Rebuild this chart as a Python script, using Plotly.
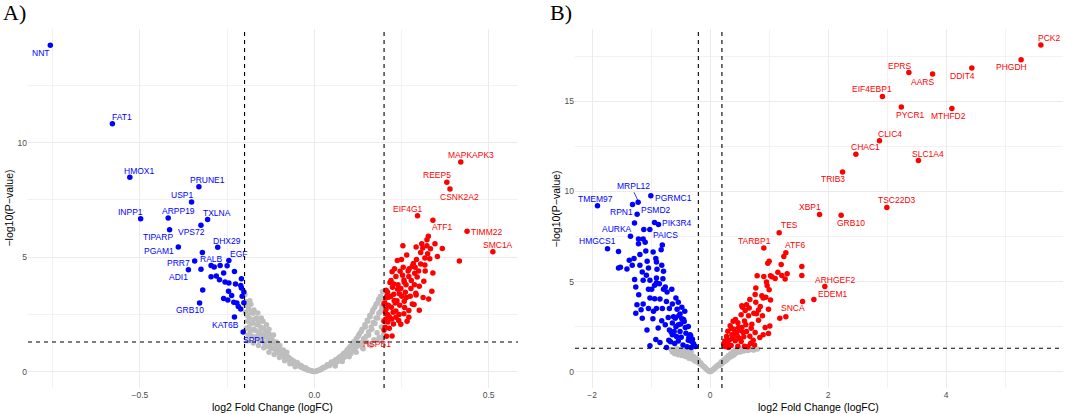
import plotly.graph_objects as go

# ── Panel A data ──────────────────────────────────────────────────────────────
a_down_x = [-0.757, -0.579, -0.529, -0.331, -0.352, -0.498, -0.419, -0.306, -0.325, -0.415,
            -0.277, -0.390, -0.321, -0.245, -0.343, -0.296, -0.361, -0.325, -0.287, -0.270,
            -0.250, -0.260, -0.229, -0.296, -0.281, -0.272, -0.256, -0.245, -0.226, -0.209,
            -0.211, -0.209, -0.246, -0.237, -0.320, -0.202, -0.207, -0.260, -0.248, -0.231,
            -0.222, -0.218, -0.211, -0.202, -0.329, -0.229, -0.204]
a_down_y = [14.25, 10.82, 8.49, 8.07, 7.41, 6.68, 6.71, 6.65, 6.39, 6.20,
            5.43, 5.44, 5.20, 4.86, 4.83, 4.64, 4.45, 4.47, 4.57, 4.64,
            4.63, 4.31, 4.38, 4.15, 4.18, 4.02, 3.92, 3.87, 3.83, 4.06,
            3.76, 3.65, 3.51, 3.33, 3.57, 3.48, 3.29, 3.20, 3.13, 3.03,
            3.00, 2.85, 2.74, 3.01, 3.00, 2.39, 1.73]

a_up_x = [0.420, 0.380, 0.389, 0.296, 0.340, 0.438, 0.512, 0.416, 0.207,
          0.327, 0.323, 0.346, 0.367, 0.292, 0.254, 0.305, 0.317, 0.353, 0.265,
          0.238, 0.284, 0.317, 0.340, 0.223, 0.253, 0.271, 0.288, 0.240, 0.228,
          0.206, 0.248, 0.277, 0.291, 0.337, 0.328, 0.301, 0.271, 0.248, 0.227,
          0.200, 0.223, 0.234, 0.258, 0.200, 0.213, 0.228, 0.259, 0.210, 0.200,
          0.215, 0.237, 0.264, 0.281, 0.292, 0.314, 0.295, 0.272, 0.255, 0.246,
          0.234, 0.220, 0.210, 0.224, 0.205, 0.206, 0.221, 0.234, 0.229, 0.244,
          0.261, 0.278, 0.258, 0.289, 0.325, 0.333, 0.308, 0.331, 0.301, 0.312,
          0.286, 0.271, 0.257, 0.242, 0.211, 0.203,
          0.205, 0.212, 0.219, 0.226, 0.232, 0.239, 0.245, 0.251, 0.257, 0.263,
          0.269, 0.275, 0.281, 0.287, 0.293, 0.299, 0.305, 0.311, 0.318, 0.323,
          0.215, 0.222, 0.243, 0.266, 0.230, 0.250, 0.208, 0.217, 0.202, 0.204]
a_up_y = [9.16, 8.27, 7.98, 6.81, 6.61, 6.13, 5.24, 4.83, 1.55,
          5.91, 5.76, 5.59, 5.38, 5.44, 5.50, 5.20, 4.96, 5.03, 5.09,
          4.85, 4.72, 4.66, 4.31, 4.36, 4.21, 4.16, 4.30, 3.80, 3.83,
          3.56, 3.63, 3.63, 3.43, 3.51, 3.17, 2.68, 2.38, 2.07, 2.08,
          1.82, 1.56, 2.65, 3.08, 2.96, 3.25, 3.38, 2.80, 2.50, 2.20,
          2.40, 3.10, 3.24, 2.96, 3.35, 3.95, 4.13, 4.49, 4.56, 4.39,
          4.16, 3.98, 3.47, 3.69, 3.22, 2.74, 2.82, 2.38, 3.11, 3.40,
          3.47, 3.98, 3.91, 4.56, 5.15, 5.37, 5.59, 4.93, 3.73, 3.24,
          2.93, 2.67, 2.53, 2.24, 2.17, 1.94,
          2.30, 2.90, 3.30, 2.60, 3.00, 3.60, 2.90, 3.30, 4.00, 3.80,
          4.40, 3.30, 4.60, 3.80, 4.90, 4.40, 4.70, 5.40, 4.40, 5.50,
          1.90, 2.30, 2.50, 2.20, 4.50, 4.90, 3.30, 3.90, 3.00, 2.60]

a_ns_x = [-0.199, -0.197, -0.195, -0.193, -0.191, -0.190, -0.188, -0.186, -0.184, -0.182,
          -0.180, -0.178, -0.176, -0.174, -0.171, -0.168, -0.165, -0.162, -0.159, -0.157,
          -0.154, -0.150, -0.147, -0.143, -0.140, -0.138, -0.134, -0.130, -0.126, -0.122,
          -0.118, -0.114, -0.110, -0.105, -0.100, -0.095, -0.090, -0.085, -0.080, -0.074,
          -0.068, -0.062, -0.056, -0.050, -0.044, -0.038, -0.032, -0.026, -0.020, -0.014,
          -0.008, -0.003,
          -0.196, -0.192, -0.188, -0.185, -0.181, -0.177, -0.173, -0.169, -0.166, -0.163,
          -0.160, -0.156, -0.152, -0.149, -0.145, -0.141, -0.137, -0.133, -0.129, -0.125,
          -0.121, -0.117, -0.113, -0.109, -0.104, -0.099, -0.094, -0.089, -0.084, -0.079,
          -0.073, -0.067, -0.061, -0.055, -0.049, -0.043, -0.037, -0.031, -0.025, -0.019,
          -0.013, -0.007, -0.190, -0.175, -0.160, -0.145, -0.130, -0.115, -0.100, -0.085,
          -0.070, -0.055,
          0.003, 0.008, 0.014, 0.020, 0.026, 0.032, 0.038, 0.044, 0.050, 0.056,
          0.062, 0.068, 0.074, 0.080, 0.085, 0.090, 0.095, 0.100, 0.105, 0.110,
          0.114, 0.118, 0.122, 0.126, 0.130, 0.134, 0.138, 0.142, 0.146, 0.150,
          0.153, 0.156, 0.159, 0.162, 0.165, 0.168, 0.171, 0.174, 0.177, 0.180,
          0.182, 0.184, 0.186, 0.188, 0.190, 0.192, 0.194, 0.196, 0.198, 0.199,
          0.007, 0.013, 0.019, 0.025, 0.031, 0.037, 0.043, 0.049, 0.055, 0.061,
          0.067, 0.073, 0.079, 0.084, 0.089, 0.094, 0.099, 0.104, 0.109, 0.113,
          0.117, 0.121, 0.125, 0.129, 0.133, 0.137, 0.141, 0.145, 0.149, 0.152,
          0.156, 0.160, 0.163, 0.166, 0.169, 0.173, 0.177, 0.181, 0.185, 0.189,
          0.193, 0.197, 0.060, 0.080, 0.100, 0.120, 0.140, 0.160, 0.180, 0.195]
a_ns_y = [3.36, 2.60, 1.90, 3.05, 2.20, 1.60, 2.75, 2.35, 1.75, 2.95,
          2.10, 1.55, 2.55, 1.85, 2.30, 1.50, 2.05, 2.56, 1.70, 1.35,
          1.95, 1.60, 2.20, 1.25, 1.75, 1.10, 1.50, 1.85, 1.20, 1.45,
          1.00, 1.25, 0.85, 1.10, 0.80, 0.95, 0.70, 0.60, 0.75, 0.52,
          0.45, 0.36, 0.42, 0.28, 0.30, 0.20, 0.18, 0.12, 0.08, 0.05,
          0.03, 0.01,
          2.90, 2.45, 1.95, 3.10, 2.60, 2.15, 2.70, 1.80, 2.35, 1.55,
          2.15, 1.75, 2.35, 1.45, 1.90, 1.55, 2.05, 1.35, 1.65, 1.05,
          1.35, 1.60, 1.05, 1.30, 0.95, 1.15, 0.80, 0.95, 0.68, 0.85,
          0.62, 0.55, 0.48, 0.36, 0.40, 0.25, 0.26, 0.15, 0.17, 0.10,
          0.07, 0.04, 1.35, 1.25, 1.15, 1.05, 0.85, 0.75, 0.62, 0.48,
          0.35, 0.22,
          0.01, 0.04, 0.07, 0.12, 0.16, 0.22, 0.28, 0.33, 0.39, 0.45,
          0.40, 0.58, 0.50, 0.72, 0.62, 0.85, 0.74, 1.05, 0.80, 1.20,
          0.95, 1.35, 1.10, 1.55, 1.25, 1.75, 1.05, 1.45, 1.95, 1.30,
          2.20, 1.60, 2.45, 1.15, 1.85, 2.70, 1.40, 2.10, 2.95, 1.70,
          2.35, 3.15, 1.50, 2.60, 3.30, 1.95, 2.85, 3.50, 2.25, 1.62,
          0.03, 0.08, 0.10, 0.18, 0.20, 0.30, 0.26, 0.42, 0.35, 0.52,
          0.45, 0.65, 0.55, 0.80, 0.68, 0.95, 0.82, 1.12, 0.92, 1.30,
          1.05, 1.45, 1.15, 1.65, 1.25, 1.85, 1.40, 2.05, 1.55, 2.25,
          1.75, 2.40, 1.95, 2.60, 2.15, 2.80, 2.35, 3.00, 2.55, 3.25,
          2.70, 3.05, 0.25, 0.45, 0.65, 0.85, 1.00, 1.20, 1.35, 1.45]

a_labels = ["NNT", "FAT1", "HMOX1", "PRUNE1", "USP1", "INPP1", "ARPP19", "TXLNA", "VPS72",
            "TIPARP", "DHX29", "PGAM1", "EGF", "RALB", "PRR7", "ADI1", "GRB10", "KAT6B", "SPP1",
            "MAPKAPK3", "REEP5", "CSNK2A2", "EIF4G1", "ATF1", "TIMM22", "SMC1A", "HSPB1"]
a_label_x = [-0.784, -0.552, -0.500, -0.305, -0.380, -0.526, -0.390, -0.278, -0.352,
             -0.449, -0.249, -0.445, -0.216, -0.294, -0.389, -0.389, -0.357, -0.255, -0.174,
             0.448, 0.353, 0.417, 0.268, 0.367, 0.495, 0.526, 0.181]
a_label_y = [13.92, 11.10, 8.78, 8.35, 7.73, 6.97, 7.00, 6.94, 6.08,
             5.90, 5.72, 5.28, 5.15, 4.93, 4.76, 4.12, 2.69, 2.05, 1.40,
             9.48, 8.57, 7.64, 7.12, 6.30, 6.10, 5.53, 1.22]
a_label_up = [False] * 19 + [True] * 8

# ── Panel B data ──────────────────────────────────────────────────────────────
b_down_x = [-1.909, -1.220, -1.315, -1.237, -1.005, -0.875, -0.942, -1.350, -0.810, -1.739,
            -1.282, -1.124, -1.022, -1.553, -1.214, -1.135, -1.101, -1.214, -1.090, -0.966,
            -1.190, -1.290, -1.370, -1.553, -1.520, -1.410, -1.320, -1.190, -1.045, -0.920,
            -0.910, -1.067, -0.830, -0.900, -0.790, -0.910, -0.910, -0.860, -1.280, -1.260,
            -1.135, -1.045, -0.990, -0.790, -0.650, -0.730, -1.020, -0.940, -0.850, -0.740,
            -0.580, -0.640, -0.540, -0.480, -1.240, -1.170, -1.260, -1.045, -0.910, -0.810,
            -0.690, -0.560, -1.150, -0.970, -0.820, -0.710, -0.590, -0.480, -0.510, -0.430,
            -0.640, -0.540, -0.440, -0.370, -1.070, -0.690, -0.610, -0.510, -0.410, -0.340,
            -0.920, -0.850, -1.020, -0.740, -0.670, -0.600, -0.540, -0.460, -0.390, -0.320,
            -0.310, -0.370, -0.570, -0.490, -0.640, -0.760, -0.880, -0.960, -1.135, -1.210,
            -1.020, -1.080, -1.150, -0.940, -0.800, -0.820, -0.760, -0.250, -0.280, -0.300,
            -0.330, -0.360, -0.420, -0.450, -0.500, -0.530, -0.580, -0.620, -0.660, -0.700]
b_down_y = [9.20, 9.39, 9.27, 8.73, 9.76, 8.16, 8.27, 7.51, 7.02, 6.82,
            8.25, 7.88, 7.88, 6.67, 7.36, 7.36, 7.18, 7.10, 6.70, 6.64,
            6.50, 6.28, 6.18, 5.75, 5.80, 5.70, 5.90, 5.90, 5.75, 6.28,
            6.09, 6.12, 6.76, 5.68, 5.57, 5.20, 4.94, 4.88, 5.12, 4.70,
            5.07, 4.57, 4.57, 4.57, 4.57, 4.42, 4.09, 4.05, 4.03, 3.90,
            4.09, 3.75, 3.86, 3.57, 3.72, 3.44, 3.25, 3.50, 3.50, 3.50,
            3.50, 3.46, 2.97, 2.94, 2.83, 3.01, 2.97, 2.94, 3.20, 3.35,
            2.70, 2.60, 2.79, 2.51, 2.32, 2.32, 2.23, 2.23, 2.14, 2.05,
            1.79, 1.62, 1.44, 1.35, 1.66, 1.57, 1.70, 1.48, 1.38, 1.35,
            1.66, 1.75, 1.96, 1.91, 2.05, 2.60, 2.42, 3.35, 3.75, 4.27,
            5.07, 5.35, 5.53, 4.79, 5.16, 5.90, 4.70, 1.40, 1.55, 1.80,
            2.00, 1.90, 2.45, 2.90, 2.65, 3.10, 2.50, 3.05, 2.20, 1.75]

b_up_x = [5.605, 5.270, 4.435, 3.368, 3.770, 2.920, 3.240, 4.097, 2.870, 2.470,
          3.530, 2.244, 2.995, 1.854, 2.220, 1.170, 0.910, 1.283, 1.944, 1.758,
          1.566, 1.249, 1.000, 0.977, 1.204, 1.554, 1.554, 1.148, 1.215, 1.305,
          1.102, 1.271, 0.797, 0.910, 1.023, 0.955, 0.966, 0.774, 1.000, 0.763,
          0.876, 0.899, 0.673, 1.023, 0.774, 0.617, 0.549, 0.662, 0.989, 0.820,
          0.741, 0.887, 0.651, 0.526, 0.820, 1.181, 1.283, 0.583, 0.470, 0.707,
          1.012, 0.932, 0.402, 0.504, 0.617, 0.763, 0.989, 0.368, 0.458, 0.571,
          0.673, 0.323, 0.425, 0.526, 0.684, 0.752, 0.266, 0.356, 0.470, 0.583,
          0.289, 0.379, 0.447, 0.538, 0.605, 0.310, 0.639, 0.729, 0.842, 0.899,
          0.492, 0.413, 0.560, 0.481, 0.696, 0.786, 0.594, 0.850, 0.944, 1.046,
          0.537, 0.250, 0.230, 0.280, 0.300, 0.340, 0.390, 0.430, 0.250, 0.360]
b_up_y = [18.12, 17.30, 16.84, 16.59, 16.50, 15.26, 14.68, 14.59, 12.80, 12.06,
          11.71, 11.08, 9.11, 8.72, 8.68, 7.71, 6.86, 6.60, 4.72, 4.01,
          3.90, 6.39, 6.13, 6.02, 5.95, 5.84, 5.34, 5.52, 5.34, 5.43,
          5.17, 5.14, 5.32, 5.28, 5.32, 4.97, 4.78, 4.65, 4.54, 4.28,
          4.22, 4.09, 4.01, 3.98, 3.85, 3.72, 3.57, 3.53, 3.46, 3.42,
          3.24, 3.10, 3.10, 3.16, 2.86, 2.97, 3.05, 2.82, 2.71, 2.64,
          2.53, 2.45, 2.36, 2.30, 2.23, 2.17, 2.12, 2.05, 1.99, 1.94,
          1.97, 1.75, 1.72, 1.68, 1.57, 1.49, 1.49, 1.46, 1.42, 1.42,
          1.60, 1.86, 2.17, 2.45, 2.60, 1.35, 1.38, 1.75, 1.90, 2.05,
          1.86, 2.12, 2.17, 2.45, 2.41, 3.21, 3.40, 3.62, 4.13, 5.26,
          3.66, 1.40, 1.55, 1.95, 2.25, 2.55, 2.80, 2.90, 1.70, 2.40]

b_ns_x = [-0.660, -0.640, -0.620, -0.600, -0.580, -0.560, -0.540, -0.520, -0.500, -0.480,
          -0.460, -0.440, -0.420, -0.400, -0.380, -0.360, -0.340, -0.320, -0.300, -0.280,
          -0.260, -0.240, -0.220, -0.200, -0.180, -0.160, -0.140, -0.120, -0.100, -0.080,
          -0.060, -0.040, -0.020, -0.005,
          -0.630, -0.590, -0.550, -0.510, -0.470, -0.430, -0.390, -0.350, -0.310, -0.270,
          -0.230, -0.190, -0.150, -0.110, -0.070, -0.030,
          0.010, 0.030, 0.050, 0.070, 0.090, 0.110, 0.130, 0.150, 0.170, 0.190,
          0.210, 0.230, 0.250, 0.270, 0.290, 0.310, 0.330, 0.350, 0.370, 0.390,
          0.410, 0.430, 0.450, 0.480, 0.510, 0.540, 0.570, 0.600, 0.640, 0.680,
          0.720, 0.760, 0.800,
          0.030, 0.070, 0.110, 0.150, 0.190, 0.230, 0.270, 0.310, 0.350, 0.390,
          0.430, 0.470, 0.520, 0.580, 0.660, 0.740]
b_ns_y = [1.25, 1.10, 1.20, 1.00, 1.15, 1.28, 0.95, 1.10, 1.22, 0.90,
          1.05, 1.20, 0.85, 1.00, 1.15, 0.75, 0.95, 1.10, 0.70, 0.85,
          0.60, 0.75, 0.55, 0.65, 0.45, 0.50, 0.38, 0.32, 0.26, 0.20,
          0.14, 0.09, 0.04, 0.01,
          1.18, 1.05, 1.15, 1.00, 1.12, 0.95, 0.88, 0.82, 0.78, 0.68,
          0.58, 0.50, 0.42, 0.30, 0.18, 0.06,
          0.02, 0.06, 0.11, 0.17, 0.22, 0.28, 0.34, 0.42, 0.38, 0.55,
          0.48, 0.65, 0.58, 0.78, 0.70, 0.90, 0.80, 1.00, 0.88, 1.12,
          0.95, 1.20, 1.05, 1.25, 1.10, 1.22, 1.15, 1.28, 1.18, 1.25,
          1.22, 1.27, 1.26,
          0.07, 0.20, 0.32, 0.35, 0.45, 0.55, 0.62, 0.75, 0.85, 0.95,
          1.05, 1.15, 1.20, 1.25, 1.22, 1.20]

b_labels = ["MRPL12", "TMEM97", "PGRMC1", "RPN1", "PSMD2", "PIK3R4", "AURKA", "PAICS", "HMGCS1",
            "PCK2", "PHGDH", "DDIT4", "EPRS", "AARS", "EIF4EBP1", "PYCR1", "MTHFD2", "CLIC4",
            "CHAC1", "SLC1A4", "TRIB3", "TSC22D3", "XBP1", "GRB10", "TES", "TARBP1", "ATF6",
            "ARHGEF2", "EDEM1", "SNCA"]
b_label_x = [-1.305, -1.937, -0.627, -1.502, -0.920, -0.559, -1.586, -0.751, -1.915,
             5.740, 5.108, 4.278, 3.210, 3.600, 2.746, 3.397, 4.034, 3.040,
             2.634, 3.690, 2.080, 3.159, 1.690, 2.385, 1.346, 0.746, 1.441,
             2.114, 2.074, 1.397]
b_label_y = [10.31, 9.57, 9.64, 8.83, 8.96, 8.27, 7.90, 7.56, 7.23,
             18.49, 16.87, 16.41, 16.97, 16.09, 15.65, 14.25, 14.16, 13.19,
             12.47, 12.08, 10.67, 9.50, 9.11, 8.27, 8.12, 7.23, 7.01,
             5.11, 4.31, 3.53]
b_label_up = [False] * 9 + [True] * 21

# ── Plot ──────────────────────────────────────────────────────────────────────
BLUE, RED, GREY = "#0000FF", "#FF0000", "#BEBEBE"
MS = 5.5

fig = go.Figure()

for xs, ys, col, xa, ya in [
    (a_ns_x, a_ns_y, GREY, "x", "y"),
    (a_down_x, a_down_y, BLUE, "x", "y"),
    (a_up_x, a_up_y, RED, "x", "y"),
    (b_ns_x, b_ns_y, GREY, "x2", "y2"),
    (b_down_x, b_down_y, BLUE, "x2", "y2"),
    (b_up_x, b_up_y, RED, "x2", "y2"),
]:
    fig.add_trace(go.Scatter(
        x=xs, y=ys, xaxis=xa, yaxis=ya, mode="markers",
        marker=dict(color=col, size=MS, line=dict(width=0)),
        showlegend=False, hoverinfo="skip",
    ))

annotations = []
for labs, lx, ly, up, xa, ya in [
    (a_labels, a_label_x, a_label_y, a_label_up, "x", "y"),
    (b_labels, b_label_x, b_label_y, b_label_up, "x2", "y2"),
]:
    for t, x, y, u in zip(labs, lx, ly, up):
        annotations.append(dict(
            x=x, y=y, xref=xa, yref=ya, text=t, showarrow=False,
            xanchor="center", yanchor="middle",
            font=dict(size=8.5, color=RED if u else BLUE, family="Liberation Sans, Arial"),
        ))

# MRPL12 leader segment
fig.add_shape(type="line", xref="x2", yref="y2", x0=-1.29, y0=9.95, x1=-1.225, y1=9.5,
              line=dict(color=BLUE, width=0.8))

# threshold lines
for xa, ya in [("x", "y"), ("x2", "y2")]:
    for v in (-0.2, 0.2):
        fig.add_shape(type="line", xref=xa, yref=ya + " domain", x0=v, x1=v, y0=0, y1=1,
                      line=dict(color="black", width=1.1, dash="4px,4px"))
    fig.add_shape(type="line", xref=xa + " domain", yref=ya, x0=0, x1=1, y0=1.30, y1=1.30,
                  line=dict(color="black", width=1.1, dash="4px,4px"))

title_font = dict(size=10.5, color="black", family="Liberation Sans, Arial")
serif = dict(size=22, color="black", family="Liberation Serif, Times New Roman")
common = dict(xref="paper", yref="paper", showarrow=False, xanchor="center", yanchor="middle")
annotations += [
    dict(text="A)", x=-0.0126, y=1.045, font=serif, **common),
    dict(text="B)", x=0.515, y=1.045, font=serif, **common),
    dict(text="log2 Fold Change (logFC)", x=0.2367, y=0, yshift=-19, font=title_font, **common),
    dict(text="log2 Fold Change (logFC)", x=0.7642, y=0, yshift=-19, font=title_font, **common),
    dict(text="\u2212log10(P\u2212value)", x=-0.0193, y=0.5, textangle=-90, font=title_font, **common),
    dict(text="\u2212log10(P\u2212value)", x=0.5101, y=0.5, textangle=-90, font=title_font, **common),
]

grid = dict(showgrid=True, gridcolor="#EBEBEB", gridwidth=1, zeroline=False,
            showline=False, ticks="", tickfont=dict(size=8.5, color="#4D4D4D"))

fig.update_layout(
    width=1065, height=414,
    margin=dict(l=28, r=2, t=29, b=26),
    plot_bgcolor="white", paper_bgcolor="white",
    font=dict(family="Liberation Sans, Arial"),
    annotations=annotations,
    xaxis=dict(domain=[0, 0.4734], range=[-0.821, 0.584], tickvals=[-0.5, 0, 0.5],
               ticktext=["\u22120.5", "0.0", "0.5"],
               minor=dict(tickvals=[-0.75, -0.25, 0.25], showgrid=True,
                          gridcolor="#F2F2F2", gridwidth=0.6),
               **grid),
    yaxis=dict(domain=[0, 1], range=[-0.71, 14.96], tickvals=[0, 5, 10], anchor="x",
               minor=dict(tickvals=[2.5, 7.5, 12.5], showgrid=True,
                          gridcolor="#F2F2F2", gridwidth=0.6),
               **grid),
    xaxis2=dict(domain=[0.5285, 1.0], range=[-2.29, 5.98], tickvals=[-2, 0, 2, 4],
                ticktext=["\u22122", "0", "2", "4"], anchor="y2",
                minor=dict(tickvals=[-1, 1, 3, 5], showgrid=True,
                           gridcolor="#F2F2F2", gridwidth=0.6),
                **grid),
    yaxis2=dict(domain=[0, 1], range=[-0.9, 19.0], tickvals=[0, 5, 10, 15], anchor="x2",
                minor=dict(tickvals=[2.5, 7.5, 12.5, 17.5], showgrid=True,
                           gridcolor="#F2F2F2", gridwidth=0.6),
                **grid),
)

fig.write_html("out.html", config={"displayModeBar": False},
               post_script="document.body.style.margin='0';")
